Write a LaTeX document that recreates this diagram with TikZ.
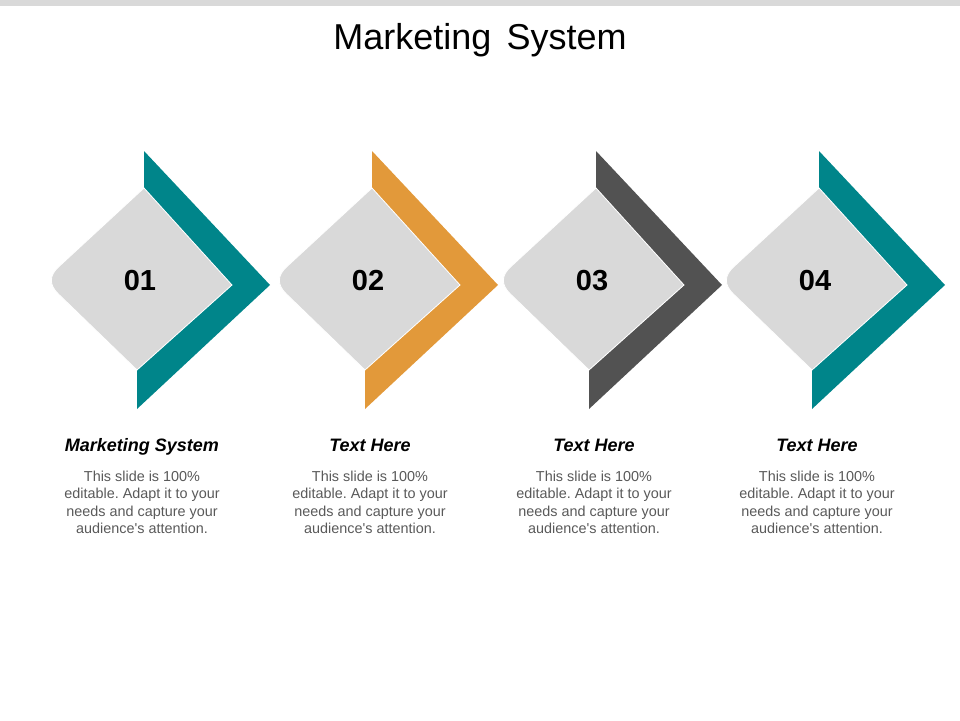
\documentclass[tikz,border=0pt]{standalone}
\usepackage{fontspec}
\setmainfont{Liberation Sans}
\definecolor{cteal}{HTML}{00858A}
\definecolor{corange}{HTML}{E2993A}
\definecolor{cdark}{HTML}{525252}
\definecolor{cdiam}{HTML}{D9D9D9}
\definecolor{cbar}{HTML}{D9D9D9}
\definecolor{cbody}{HTML}{595959}
\tikzset{
  diamondfill/.style={fill=cdiam, draw=white, line width=0.8pt},
  numtext/.style={font=\fontsize{29}{31}\selectfont\bfseries, text=black, inner sep=0pt},
  headtext/.style={font=\fontsize{18}{20}\selectfont\bfseries\itshape, text=black, inner sep=0pt, anchor=base},
  bodytext/.style={font=\fontsize{14.4}{17.5}\selectfont\frenchspacing, text=cbody, align=center, inner sep=0pt, anchor=north},
  titletext/.style={font=\fontsize{36}{40}\selectfont, text=black, inner sep=0pt, anchor=base}
}
\begin{document}
\begin{tikzpicture}[x=1pt,y=-1pt]
\useasboundingbox (0,0) rectangle (960,720);
\fill[cbar] (0,0) rectangle (960,6);
\node[titletext] (title) at (480,49.5) {Marketing\hspace{0.42em}System};
\foreach \X/\col/\num/\head [count=\i] in {144/cteal/01/Marketing System, 372/corange/02/Text Here, 596/cdark/03/Text Here, 819/cteal/04/Text Here}{
  \fill[\col] (\X,151) -- (\X+126,285) -- (\X-7,409) -- (\X-7,370) -- (\X+88,285) -- (\X,188) -- cycle;
  \path[diamondfill] (\X,188) -- (\X+88,285) -- (\X-7,370) -- (\X-85.6,294) .. controls (\X-95.2,284.7) and (\X-95,275.5) .. (\X-85,266.5) -- cycle;
  \node[numtext] (num\i) at (\X-4,280.5) {\num};
  \node[headtext] (head\i) at (\X-2,451) {\head};
  \node[bodytext] (body\i) at (\X-2,470.5) {This slide is 100\%\\editable. Adapt it to your\\needs and capture your\\audience\textquotesingle s attention.};
}
\end{tikzpicture}
\end{document}
